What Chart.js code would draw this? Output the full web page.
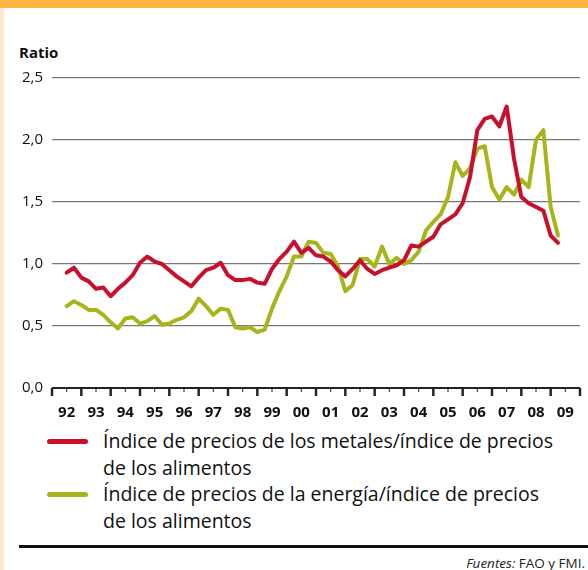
<!DOCTYPE html>
<html>
<head>
<meta charset="utf-8">
<script src="https://cdn.jsdelivr.net/npm/chart.js@4/dist/chart.umd.min.js"></script>
<style>
  html, body { margin: 0; padding: 0; }
  body { width: 588px; height: 570px; position: relative; overflow: hidden; background: #fff; font-family: 'Open Sans', sans-serif; color: #111; }
  .strip { position: absolute; left: 0; top: 0; width: 4px; height: 570px; background: #fde9cf; }
  .topbar { position: absolute; left: 0; top: 0; width: 588px; height: 8px; background: #fdb441; }
  .ratio { position: absolute; left: 19px; top: 42px; font-weight: 700; font-size: 15px; }
  #wrap { position: absolute; left: 0; top: 0; width: 588px; height: 425px; }
  .legend { position: absolute; left: 47px; top: 428px; font-size: 19.5px; line-height: 26.5px; }
  .item { position: relative; padding-left: 56px; }
  .sw { position: absolute; left: 0; top: 11px; width: 41px; height: 5px; border-radius: 3px; }
  .rule { position: absolute; left: 19px; top: 545px; width: 569px; height: 2.5px; background: #111; }
  .src { position: absolute; right: 3px; top: 554px; font-size: 13.5px; color: #222; }
</style>
</head>
<body>
<div class="strip"></div>
<div class="topbar"></div>
<div class="ratio">Ratio</div>
<div id="wrap"><canvas id="chart" width="588" height="425"></canvas></div>
<div class="legend" id="legend"></div>
<div class="rule"></div>
<div class="src"><i>Fuentes:</i> FAO y FMI.</div>
<script>
// quarterly series, 1992 T3 .. 2009 T2
const firstYear = 1992, firstQuarter = 3
const yearLabels = ['92','93','94','95','96','97','98','99','00','01','02','03','04','05','06','07','08','09']
const yTicks = [0, 0.5, 1, 1.5, 2, 2.5]

const metals = [0.93,0.97,0.89,0.86,0.80,0.81,0.74,0.80,0.85,0.91,1.01,1.06,1.02,1.00,0.95,0.90,
  0.86,0.82,0.89,0.95,0.97,1.01,0.91,0.87,0.87,0.88,0.85,0.84,0.96,1.04,1.10,1.18,
  1.09,1.13,1.07,1.06,1.02,0.95,0.90,0.96,1.03,0.96,0.92,0.95,0.97,0.99,1.03,1.15,
  1.14,1.18,1.22,1.32,1.36,1.40,1.49,1.70,2.08,2.17,2.19,2.11,2.27,1.85,1.54,1.49,
  1.46,1.43,1.23,1.17]
const energy = [0.66,0.70,0.67,0.63,0.63,0.59,0.53,0.48,0.56,0.57,0.52,0.54,0.58,0.51,0.52,0.55,
  0.57,0.62,0.72,0.66,0.59,0.64,0.63,0.49,0.48,0.49,0.45,0.47,0.64,0.78,0.90,1.06,
  1.06,1.18,1.17,1.09,1.08,0.98,0.78,0.83,1.04,1.04,0.98,1.14,1.00,1.05,1.00,1.03,
  1.10,1.27,1.34,1.40,1.54,1.82,1.71,1.77,1.93,1.95,1.62,1.52,1.62,1.56,1.68,1.62,
  2.00,2.08,1.46,1.23]

const seriesNames = [
  ['Índice de precios de los metales/índice de precios', 'de los alimentos'],
  ['Índice de precios de la energía/índice de precios', 'de los alimentos']
]
const seriesColors = ['#c8102e', '#a8b41c']

// quarter labels -> position on the year axis (start of quarter)
const quarters = metals.map((_, i) => {
  const q = firstQuarter - 1 + i
  return { year: firstYear + Math.floor(q / 4), q: (q % 4) + 1 }
})
const toPoints = vals => vals.map((v, i) => ({ x: quarters[i].year + (quarters[i].q - 1) / 4, y: v }))

const comma = v => v.toFixed(1).replace('.', ',')

// year ticks under the axis: long at year starts, short at mid-year
const yearTicks = {
  id: 'yearTicks',
  afterDraw(chart) {
    const x = chart.scales.x
    const y0 = chart.scales.y.getPixelForValue(0)
    const ctx = chart.ctx
    ctx.save()
    ctx.strokeStyle = '#222'
    for (let v = x.min; v <= x.max; v += 0.5) {
      const px = x.getPixelForValue(v)
      const major = Number.isInteger(v)
      ctx.lineWidth = major ? 2.5 : 1
      ctx.beginPath()
      ctx.moveTo(px, y0)
      ctx.lineTo(px, y0 + (major ? 8 : 4))
      ctx.stroke()
    }
    ctx.restore()
  }
}

new Chart(document.getElementById('chart'), {
  type: 'line',
  data: {
    datasets: [metals, energy].map((vals, i) => ({
      label: seriesNames[i].join(' '),
      data: toPoints(vals),
      borderColor: seriesColors[i],
      borderWidth: 4,
      pointRadius: 0,
      tension: 0,
      borderJoinStyle: 'round',
      borderCapStyle: 'round',
      clip: false,
    })),
  },
  options: {
    responsive: false,
    devicePixelRatio: 1,
    animation: false,
    layout: { padding: { top: 78, right: 8, left: 0, bottom: 0 } },
    plugins: { legend: { display: false }, tooltip: { enabled: false } },
    scales: {
      x: {
        type: 'linear',
        min: firstYear,
        max: firstYear + yearLabels.length,
        afterFit: s => { s.height = 37 },
        afterBuildTicks: s => { s.ticks = yearLabels.map((_, i) => ({ value: firstYear + i + 0.5 })) },
        grid: { display: false },
        border: { display: false },
        ticks: {
          autoSkip: false,
          maxRotation: 0,
          padding: 8,
          color: '#111',
          font: { family: "'Open Sans', sans-serif", size: 15, weight: 'bold' },
          callback: v => yearLabels[Math.floor(v - firstYear)],
        },
      },
      y: {
        min: 0,
        max: 2.5,
        afterFit: s => { s.width = 52 },
        afterBuildTicks: s => { s.ticks = yTicks.map(v => ({ value: v })) },
        border: { display: false },
        grid: {
          drawTicks: false,
          color: c => c.tick && c.tick.value === 0 ? '#222' : '#777',
          lineWidth: c => c.tick && c.tick.value === 0 ? 2 : 1.3,
        },
        ticks: {
          padding: 9,
          color: '#111',
          font: { family: "'Open Sans', sans-serif", size: 15 },
          callback: v => comma(v),
        },
      },
    },
  },
  plugins: [yearTicks],
})

// legend
const legend = document.getElementById('legend')
seriesNames.forEach((lines, i) => {
  const item = document.createElement('div')
  item.className = 'item'
  item.innerHTML = '<span class="sw" style="background:' + seriesColors[i] + '"></span>' + lines.join('<br>')
  legend.appendChild(item)
})
</script>
</body>
</html>
